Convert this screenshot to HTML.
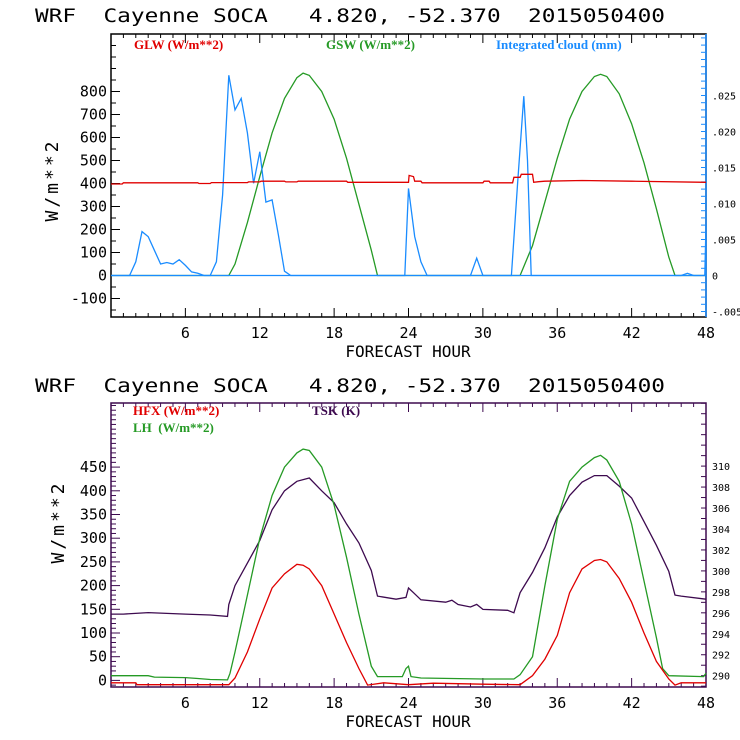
<!DOCTYPE html>
<html><head><meta charset="utf-8"><style>
body{margin:0;background:#fff;}
svg{display:block;font-family:"DejaVu Sans Mono","Liberation Mono",monospace;}
text{white-space:pre;}
.leg{font-family:"Liberation Serif",serif;font-size:13px;font-weight:bold;}
</style></head><body>
<svg id="s" width="740" height="740" viewBox="0 0 740 740" xmlns="http://www.w3.org/2000/svg" xml:space="preserve"></svg>
<script>
// ---- Top chart data ----
const glwHours=[0,0.9,1,7,7.1,8,8.1,11,11.1,12,12.1,14,14.1,15,15.1,19,19.1,24,24.05,24.4,24.5,25,25.1,30,30.1,30.5,30.6,32.4,32.5,33,33.1,34,34.1,34.5,35,38,42,48];
const glwValues=[398,398,403,403,400,400,404,404,407,407,410,410,407,407,410,410,405,405,435,430,410,410,403,403,410,410,403,403,427,427,440,440,405,408,410,413,410,405];
const gswHours=[0,9.5,10,11,12,13,14,15,15.5,16,17,18,19,20,21,21.5,33,34,35,36,37,38,39,39.5,40,41,42,43,44,45,45.5,48];
const gswValues=[0,0,50,230,430,620,770,860,880,870,800,680,510,310,110,0,0,130,320,510,680,800,865,875,865,790,660,490,290,80,0,0];
const cloudHours=[0,1.5,2,2.5,3,3.5,4,4.5,5,5.5,6,6.5,7,7.5,8,8.5,9,9.5,10,10.5,11,11.5,12,12.5,13,13.5,14,14.5,23.7,24,24.5,25,25.5,29,29.5,30,32.3,32.8,33.3,33.6,33.9,46,46.5,47,47.9,48];
const cloudValues=[0,0,.0019,.0061,.0054,.0035,.0016,.0018,.0016,.0022,.0014,.0005,.0003,0,0,.0019,.0112,.0278,.023,.0246,.0198,.0128,.0172,.0102,.0105,.0057,.0006,0,0,.0121,.0054,.0019,0,0,.0024,0,0,.0128,.0249,.016,0,0,.0003,0,0,.007];
const topLeftTicks=[-100,0,100,200,300,400,500,600,700,800];
const topRightTicks=[-.005,0,.005,.010,.015,.020,.025];
const topRightLabels=["-.005","0",".005",".010",".015",".020",".025"];
// ---- Bottom chart data ----
const hfxHours=[0,2,2.1,9.5,10,11,12,13,14,15,15.5,16,17,18,19,20,20.7,22,24,26,30,33,34,35,36,37,38,39,39.5,40,41,42,43,44,45,45.5,46,48];
const hfxValues=[-5,-5,-9,-9,5,60,130,195,225,245,243,235,200,140,80,25,-10,-5,-9,-6,-8,-9,10,45,95,185,235,253,255,250,215,165,100,40,3,-10,-5,-5];
const lhHours=[0,3,3.5,6,7,8,9.4,9.6,10,11,12,13,14,15,15.5,16,17,18,19,20,21,21.5,23.5,23.8,24,24.2,25,30,32.5,33,34,35,36,37,38,39,39.5,40,41,42,43,44,44.5,45,47.8,48];
const lhValues=[10,10,7,6,4,2,1,15,60,180,300,390,450,480,488,485,450,370,260,140,30,8,8,25,30,8,5,3,3,12,50,200,340,420,450,470,475,465,420,330,210,90,25,10,8,15];
const tskHours=[0,1,3,6,8,9.4,9.5,10,12,13,14,15,16,17,18,19,20,21,21.5,23,23.8,24,24.4,25,27,27.5,28,29,29.5,30,32,32.5,33,34,35,36,37,38,39,40,41,42,43,44,45,45.5,46,48];
const tskValues=[295.88,295.88,296.02,295.88,295.79,295.66,296.79,298.6,302.9,305.83,307.64,308.55,308.86,307.64,306.51,304.48,302.67,300.04,297.6,297.3,297.47,298.37,297.92,297.24,297.01,297.2,296.79,296.56,296.8,296.33,296.24,296.0,297.92,299.86,302.21,305.15,307.19,308.46,309.09,309.09,308.09,306.96,304.7,302.44,299.95,297.69,297.6,297.3];
const botLeftTicks=[0,50,100,150,200,250,300,350,400,450];
const botRightTicks=[290,292,294,296,298,300,302,304,306,308,310];
const xTicks=[6,12,18,24,30,36,42,48];

const S=document.getElementById('s');
const NS='http://www.w3.org/2000/svg';
function mk(tag,at,parent){const e=document.createElementNS(NS,tag);for(const k in at)e.setAttribute(k,at[k]);(parent||S).appendChild(e);return e;}
function txt(x,y,s,at,parent){const e=mk('text',Object.assign({x:x,y:y},at),parent);e.textContent=s;return e;}

function chart(cfg){
  const g=mk('g',{});
  
  
  const L=111,R=706,T=cfg.top,B=cfg.bottom;
  const X=h=>L+(R-L)*h/48;
  const YL=v=>cfg.y0+(v-cfg.lv0)*cfg.lpx;
  const YR=v=>cfg.y0r+(v-cfg.rv0)*cfg.rpx;
  const t=txt(35,cfg.titleY,'WRF  Cayenne SOCA   4.820, -52.370  2015050400',{'font-size':'19','textLength':'630','lengthAdjust':'spacingAndGlyphs',fill:'#000'},g);
  
  
  const fr=mk('rect',{x:L,y:T,width:R-L,height:B-T,fill:'none',stroke:cfg.frame,'stroke-width':1.5},g);
  
  
  if(cfg.rightColor){const rl=mk('line',{x1:R,y1:T,x2:R,y2:B,stroke:cfg.rightColor,'stroke-width':1.5},g);
    
    }
  for(let h=1;h<48;h++){const len=h%6==0?9:4;
    mk('line',{x1:X(h),y1:B,x2:X(h),y2:B-len,stroke:cfg.frame},g);
    mk('line',{x1:X(h),y1:T,x2:X(h),y2:T+len,stroke:cfg.frame},g);}
  xTicks.forEach(h=>{const e=txt(X(h),B+21,String(h),{'font-size':'15','text-anchor':'middle',fill:'#000'},g);
    
    });
  const xl=txt(408,B+40,'FORECAST HOUR',{'font-size':'16','text-anchor':'middle',fill:'#000'},g);
  
  
  for(let v=cfg.lfrom;YL(v)>T;v+=cfg.lmin){const y=YL(v);if(y>B)continue;
    const major=cfg.leftTicks.includes(Math.round(v*1000)/1000);
    mk('line',{x1:L,y1:y,x2:L+(major?9:5),y2:y,stroke:cfg.frame},g);}
  cfg.leftTicks.forEach(v=>{const e=txt(L-4,YL(v)+5,String(v),{'font-size':'15','text-anchor':'end',fill:'#000'},g);
    
    });
  const rc=cfg.rightColor||cfg.frame;
  for(let v=cfg.rfrom;YR(v)>T;v+=cfg.rmin){const y=YR(v);if(y>B)continue;
    mk('line',{x1:R,y1:y,x2:R-5,y2:y,stroke:rc},g);}
  cfg.rightTicks.forEach((v,i)=>{const e=txt(R+6,YR(v)+4,cfg.rightLabels[i],{'font-size':'10',fill:'#000'},g);
    
    });
  const yl=txt(0,0,'W/m**2',{'font-size':'18','text-anchor':'middle',fill:'#000',transform:`translate(${cfg.ytX},${cfg.ytY}) rotate(-90)`,'letter-spacing':'3'},g);
  
  
  cfg.series.forEach(s=>{
    const Y=s.axis=='r'?YR:YL;
    const pts=s.h.map((h,i)=>X(h).toFixed(1)+','+Y(s.v[i]).toFixed(1)).join(' ');
    const p=mk('polyline',{points:pts,fill:'none',stroke:s.color,'stroke-width':1.3},g);
    
    
  });
  if(cfg.zeroLine){const z=mk('line',{x1:L,y1:YL(0),x2:R,y2:YL(0),stroke:'#1a8cff','stroke-width':1.3},g);
    
    }
  cfg.legend.forEach(l=>{const e=txt(l.x,l.y,l.t,{'class':'leg',fill:l.c},g);
    
    });
}

chart({name:'radiation-cloud-chart',top:34,bottom:317,titleY:22,frame:'#000',rightColor:'#1a8cff',
  y0:275.5,lv0:0,lpx:-0.23,y0r:275.5,rv0:0,rpx:-7200,
  lfrom:-150,lmin:50,leftTicks:topLeftTicks,
  rfrom:-0.006,rmin:0.001,rightTicks:topRightTicks,rightLabels:topRightLabels,
  ytX:58,ytY:180,zeroLine:true,
  series:[{name:'gsw-line',h:gswHours,v:gswValues,color:'#259a25',axis:'l'},
          {name:'cloud-line',h:cloudHours,v:cloudValues,color:'#1a8cff',axis:'r'},
          {name:'glw-line',h:glwHours,v:glwValues,color:'#e00000',axis:'l'}],
  legend:[{x:134,y:49,t:'GLW (W/m**2)',c:'#e00000'},{x:326,y:49,t:'GSW (W/m**2)',c:'#259a25'},{x:496,y:49,t:'Integrated cloud (mm)',c:'#1a8cff'}]});

chart({name:'flux-chart',top:403,bottom:687,titleY:392,frame:'#3d0a4f',rightColor:null,
  y0:680.4,lv0:0,lpx:-0.474,y0r:675.7,rv0:290,rpx:-10.48,
  lfrom:-10,lmin:10,leftTicks:botLeftTicks,
  rfrom:289,rmin:1,rightTicks:botRightTicks,rightLabels:botRightTicks.map(String),
  ytX:64,ytY:522,zeroLine:false,
  series:[{name:'tsk-line',h:tskHours,v:tskValues,color:'#3d0a4f',axis:'r'},
          {name:'lh-line',h:lhHours,v:lhValues,color:'#259a25',axis:'l'},
          {name:'hfx-line',h:hfxHours,v:hfxValues,color:'#e00000',axis:'l'}],
  legend:[{x:133,y:415,t:'HFX (W/m**2)',c:'#e00000'},{x:133,y:432,t:'LH  (W/m**2)',c:'#259a25'},{x:312,y:415,t:'TSK (K)',c:'#3d0a4f'}]});
</script>
</body></html>
